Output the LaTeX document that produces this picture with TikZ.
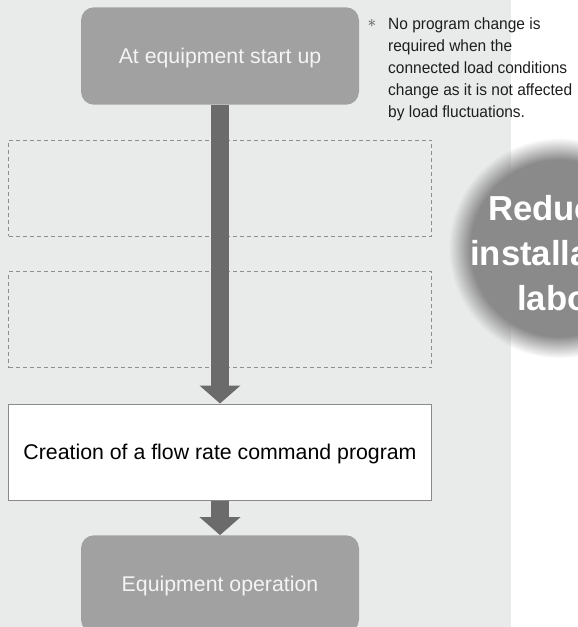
\documentclass[tikz,border=0pt]{standalone}
\usepackage{fontspec}
\setmainfont{Liberation Sans}
\newfontfamily\notefont{Liberation Sans}[FakeStretch=0.95]
\usetikzlibrary{arrows.meta,fadings}
\definecolor{bggray}{HTML}{E9EAEA}
\definecolor{boxgray}{HTML}{A0A1A0}
\definecolor{boxtext}{HTML}{F4F4F4}
\definecolor{arrowgray}{HTML}{6B6B6B}
\definecolor{dashgray}{HTML}{8E8E8E}
\definecolor{edgegray}{HTML}{8A8A8A}
\definecolor{discgray}{HTML}{8A8A8A}
\definecolor{notegray}{HTML}{1E1E1E}
\begin{document}
\begin{tikzpicture}[x=1pt,y=-1pt,
  stepbox/.style={fill=boxgray,rounded corners=13pt,minimum width=278pt,minimum height=97.4pt,
    inner sep=0pt,text=boxtext,font=\fontsize{21.3}{25}\selectfont,text height=15.3pt,text depth=0pt},
  cmdbox/.style={draw=edgegray,line width=1pt,fill=white,minimum width=423pt,minimum height=96pt,
    inner sep=0pt,font=\fontsize{21.3}{25}\selectfont,text height=15.3pt,text depth=0pt},
  dashbox/.style={draw=dashgray,line width=0.8pt,dash pattern=on 4pt off 3pt,minimum width=423pt,
    minimum height=96pt,inner sep=0pt},
  flow/.style={draw=arrowgray,line width=18.6pt,-{Triangle[length=18pt,width=40pt]}},
  notetext/.style={inner sep=0pt,align=left,text=notegray,font=\notefont\fontsize{16.3}{22}\selectfont},
  disctext/.style={inner sep=0pt,anchor=base west,text=white,font=\bfseries\fontsize{34.7}{40}\selectfont}]
\useasboundingbox (0,0) rectangle (578,627);
\clip (0,0) rectangle (578,627);
\fill[bggray] (0,0) rectangle (510.7,627);
% empty steps
\node[dashbox] (plan1) at (220,188) {};
\node[dashbox] (plan2) at (220,319.5) {};
% flow
\node[stepbox] (start) at (220,56) {At equipment start up};
\node[cmdbox] (cmd) at (220,452) {Creation of a flow rate command program};
\node[stepbox] (oper) at (220,584) {Equipment operation};
\draw[flow] (start) -- (cmd);
\draw[flow] (cmd) -- (oper);
% note (base = last line)
\node[text=notegray!80,font=\fontsize{17}{17}\selectfont,inner sep=0pt] (star) at (372,23) {$\ast$};
\node[notetext,anchor=base west] (note) at (388,117) {No program change is\\required when the\\connected load conditions\\change as it is not affected\\by load fluctuations.};
% disc
\fill[discgray,path fading=circle with fuzzy edge 20 percent] (559,248) circle (110pt);
\node[disctext] (red) at (488,220) {Reduc};
\node[disctext] (inst) at (470,265) {installa};
\node[disctext] (lab) at (517,310) {labo};
\end{tikzpicture}
\end{document}
